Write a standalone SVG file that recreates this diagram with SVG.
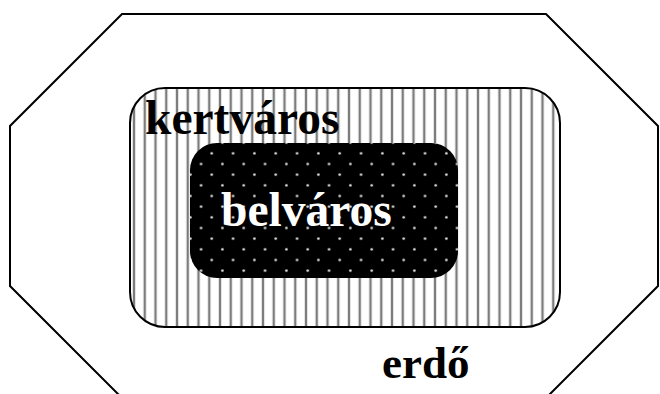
<svg xmlns="http://www.w3.org/2000/svg" width="660" height="394" viewBox="0 0 660 394">
  <defs>
    <pattern id="stripes" patternUnits="userSpaceOnUse" x="134" y="0" width="10.75" height="20">
      <rect x="-1.2" y="0" width="2.4" height="20" fill="#7c7c7c"/>
      <rect x="9.55" y="0" width="2.4" height="20" fill="#7c7c7c"/>
    </pattern>
    <pattern id="dots" patternUnits="userSpaceOnUse" x="206.4" y="148" width="21.33" height="21.33">
      <rect width="21.33" height="21.33" fill="#000"/>
      <circle cx="5.33" cy="5.33" r="1.3" fill="#e6e6e6"/>
      <circle cx="16" cy="16" r="1.3" fill="#e6e6e6"/>
    </pattern>
    <style>
      .lbl { font-family: "Liberation Serif", "Times New Roman", serif; font-weight: bold; }
      .line { fill: none; stroke: #000; stroke-width: 2; }
    </style>
  </defs>
  <rect width="660" height="394" fill="#fff"/>
  <g id="erdo">
    <polygon class="line" points="122,14 546,14 658,126 658,286 540,404 128,404 10,286 10,126"/>
    <text class="lbl" x="382" y="378" font-size="45" fill="#000">erdő</text>
  </g>
  <g id="kertvaros">
    <rect x="130" y="88" width="430" height="239" rx="35" ry="35" fill="#fff"/>
    <rect x="130" y="88" width="430" height="239" rx="35" ry="35" fill="url(#stripes)" stroke="#000" stroke-width="2"/>
    <text class="lbl" x="145" y="134" font-size="47.5" fill="#000">kertváros</text>
  </g>
  <g id="belvaros">
    <rect x="190" y="143" width="268" height="135" rx="27" ry="27" fill="url(#dots)"/>
    <text class="lbl" x="221" y="226" font-size="47.5" fill="#fff">belváros</text>
  </g>
  <g id="connectors"></g>
</svg>
